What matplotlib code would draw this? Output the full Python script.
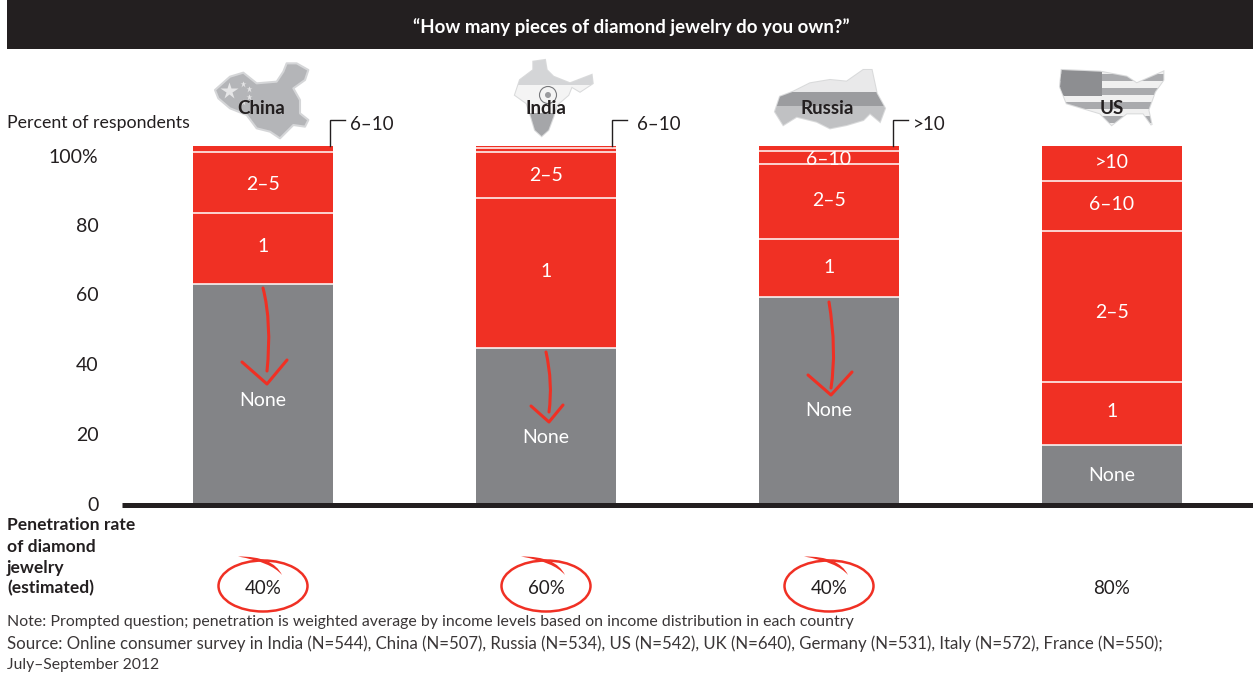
import numpy as np
import matplotlib
matplotlib.use("Agg")
import matplotlib.pyplot as plt
from matplotlib.patches import Polygon, Ellipse, Rectangle, PathPatch
from matplotlib.path import Path
from matplotlib.transforms import ScaledTranslation

plt.rcParams['font.family'] = ['Lato', 'DejaVu Sans']

countries = ["China", "India", "Russia", "US"]
none_vals = [61.3, 43.4, 57.7, 16.2]
one_vals = [19.9, 42.0, 16.2, 17.6]
two_five_vals = [17.1, 12.9, 21.0, 42.3]
six_ten_vals = [1.7, 1.1, 3.6, 14.0]
over_ten_vals = [0.0, 0.6, 1.5, 9.9]
segment_names = ["None", "1", "2–5", "6–10", ">10"]
penetration = ["40%", "60%", "40%", "80%"]
tick_labels = ["0", "20", "40", "60", "80", "100%"]
tick_positions = [0, 19.5, 39.1, 58.7, 78.2, 97.6]

GREY, RED, INK = "#838487", "#f03024", "#231f20"
W, H = 1253, 679
fig = plt.figure(figsize=(W/100, H/100), dpi=100, facecolor="white")

# pixel overlay for decoration
ov = fig.add_axes([0, 0, 1, 1], zorder=5)
ov.set_xlim(0, W); ov.set_ylim(H, 0); ov.axis("off"); ov.patch.set_alpha(0)

# chart axes
ax = fig.add_axes([122/W, (H-503)/H, (W-122)/W, 357/H], zorder=2)
ax.set_xlim(-0.498, 3.498); ax.set_ylim(0, 100)
for s in ("top", "right", "left"):
    ax.spines[s].set_visible(False)
ax.spines["bottom"].set_linewidth(3.6)
ax.spines["bottom"].set_color(INK)
ax.spines["bottom"].set_capstyle("butt")
ax.spines["bottom"].set_position(("outward", 1.2))
ax.set_xticks([])
ax.set_yticks(tick_positions, tick_labels, fontsize=14, color=INK)
ax.tick_params(axis="y", length=0, pad=17)
down = ScaledTranslation(0, -1/100, fig.dpi_scale_trans)
for lab in ax.get_yticklabels():
    lab.set_transform(lab.get_transform() + down)

series = [none_vals, one_vals, two_five_vals, six_ten_vals, over_ten_vals]
x = np.arange(len(countries))
w = 140/283
# pixel nudges of the white labels from the middle of their segment (downwards)
nudge = {"None": [7, 12, 10, 1], "1": [-2, -2, -1, -2], "2–5": [2, 0, -1, 6], "6–10": [0, 0, 2, -2], ">10": [0, 0, 0, -1]}
bottom = np.zeros(4)
for i, (vals, name) in enumerate(zip(series, segment_names)):
    vals = np.array(vals)
    ax.bar(x, vals, w, bottom=bottom, color=GREY if i == 0 else RED, linewidth=0, zorder=2)
    for j in range(4):
        if vals[j] >= 3:
            ax.annotate(name, (x[j], bottom[j] + vals[j]/2), xytext=(0, -nudge[name][j]),
                        textcoords="offset pixels", color="white", ha="center", va="center",
                        fontsize=14, zorder=3)
    bottom = bottom + vals

# white separators
cum = np.zeros(4)
for vals in series[:-1]:
    cum = cum + np.array(vals)
    for j in range(4):
        if cum[j] < 99.9:
            ax.hlines(cum[j], x[j]-w/2, x[j]+w/2, color="white", lw=1.1, zorder=4)

# header
ov.add_patch(Rectangle((7, 0), W-7, 49, fc=INK, ec="none"))
ov.text(631, 27, "“How many pieces of diamond jewelry do you own?”", color="white",
        ha="center", va="center", fontsize=13.4, fontweight="bold")

ov.text(7, 123, "Percent of respondents", fontsize=12.8, color=INK, ha="left", va="center")

# leader lines
for xl, xt, label in [(330, 350, "6–10"), (612, 637, "6–10"), (893, 913, ">10")]:
    ov.plot([xl, xl, xl+15], [146, 120, 120], color=INK, lw=1.0, solid_joinstyle="miter")
    ov.text(xt, 125, label, fontsize=13.5, color=INK, ha="left", va="center")

# map silhouettes
def zoom_pts(pts, ox, oy):
    return [(ox+a/3, oy+b/3) for a, b in pts]

china = zoom_pts([(105,120),(150,80),(190,68),(230,100),(290,95),(310,65),(320,40),(350,40),(385,60),
                  (375,90),(340,115),(360,150),(360,190),(385,210),(375,230),(340,225),(315,250),(300,265),
                  (270,245),(230,235),(200,195),(150,175),(115,145)], 180, 50)
india = zoom_pts([(1060,35),(1095,30),(1100,60),(1120,80),(1170,100),(1235,75),(1238,100),(1200,125),
                  (1175,110),(1165,135),(1130,165),(1120,200),(1105,240),(1085,258),(1065,240),(1050,190),
                  (1040,160),(1005,135),(1020,90),(1060,60)], 180, 50)
russia = zoom_pts([(75,185),(90,140),(130,125),(180,100),(240,90),(290,95),(340,60),(365,60),(380,130),
                   (405,175),(390,215),(360,190),(340,210),(290,225),(240,235),(200,215),(140,200),(100,225)], 750, 50)
usa = zoom_pts([(935,60),(1050,65),(1130,80),(1160,100),(1240,65),(1240,90),(1215,125),(1195,180),(1205,225),
                (1180,190),(1130,190),(1085,225),(1050,190),(1000,175),(950,160),(930,110)], 750, 50)

def clipped_bands(pts, bands):
    outline = Polygon(pts, closed=True, fc="none", ec="#d9dadb", lw=1.5)
    ov.add_patch(outline)
    for (x0, y0, x1, y1, col) in bands:
        r = Rectangle((x0, y0), x1-x0, y1-y0, fc=col, ec="none")
        ov.add_patch(r)
        r.set_clip_path(outline)

ov.add_patch(Polygon(china, closed=True, fc="#b4b5b8", ec="#d5d6d8", lw=1.5, joinstyle="round"))
ov.plot([229], [91], marker="*", ms=13, color="#e6e6e7", mec="none")
for px, py in [(243, 84), (249, 89), (249, 97), (243, 102)]:
    ov.plot([px], [py], marker="*", ms=4.5, color="#e6e6e7", mec="none")

clipped_bands(india, [(500, 50, 610, 85, "#d4d5d7"), (500, 85, 610, 113, "#f4f4f4"), (500, 113, 610, 145, "#a5a6a9")])
ov.add_patch(Ellipse((548, 95), 17, 17, fc="none", ec="#77787b", lw=0.8))
ov.add_patch(Ellipse((548, 95), 6, 6, fc="#9a9b9e", ec="none"))

clipped_bands(russia, [(770, 60, 890, 92, "#e9e9ea"), (770, 92, 890, 106, "#9b9c9f"), (770, 106, 890, 135, "#c0c1c3")])

us_bands = [(1050, 60+i*7, 1175, 67+i*7, "#a9aaad" if i % 2 == 0 else "#f0f0f0") for i in range(11)]
us_bands.append((1055, 62, 1102, 96, "#8d8e91"))
clipped_bands(usa, us_bands)

for xc, name in zip([261, 546, 827, 1112], countries):
    ov.text(xc, 108.5, name, fontsize=13.5, fontweight="bold", color=INK, ha="center", va="center")

# hand drawn arrows
arrows = [
    ([(263, 288), (272, 323), (267, 371)], [(242, 362), (267, 384), (287, 360)]),
    ([(546, 352), (553, 383), (549, 412)], [(531, 406), (549, 422), (563, 405)]),
    ([(829, 302), (837, 350), (831, 388)], [(808, 375), (831, 395), (852, 372)]),
]
for shaft, head in arrows:
    ov.add_patch(PathPatch(Path(shaft, [Path.MOVETO, Path.CURVE3, Path.CURVE3]), fc="none", ec=RED, lw=2.2, capstyle="round"))
    ov.plot(*zip(*head), color=RED, lw=2.2, solid_joinstyle="round", solid_capstyle="round")

# penetration row
for yy, line in zip([525, 547, 568, 588], ["Penetration rate", "of diamond", "jewelry", "(estimated)"]):
    ov.text(7, yy, line, fontsize=12.6, fontweight="bold", color=INK, ha="left", va="center")
for xc, p in zip([263, 546, 829, 1112], penetration):
    ov.text(xc, 589, p, fontsize=13.5, color=INK, ha="center", va="center")
swish_codes = [Path.MOVETO, Path.CURVE3, Path.CURVE3, Path.CURVE3, Path.CURVE3, Path.CLOSEPOLY]
for xc in [263, 546, 829]:
    ov.add_patch(Ellipse((xc, 586), 89, 51, fc="none", ec=RED, lw=1.8))
    ov.add_patch(PathPatch(Path([(xc-25, 556.5), (xc+10, 556), (xc+19, 575), (xc+8, 562), (xc-25, 556.5), (xc-25, 556.5)],
                                swish_codes), fc=RED, ec="none"))

# notes
notes = [("Note: Prompted question; penetration is weighted average by income levels based on income distribution in each country", 622, 11.45),
         ("Source: Online consumer survey in India (N=544), China (N=507), Russia (N=534), US (N=542), UK (N=640), Germany (N=531), Italy (N=572), France (N=550);", 644, 12.1),
         ("July–September 2012", 665, 11.3)]
for t, yy, fs in notes:
    ov.text(7, yy, t, fontsize=fs, color="#3a3637", ha="left", va="center")

fig.savefig("out.png", dpi=100)
